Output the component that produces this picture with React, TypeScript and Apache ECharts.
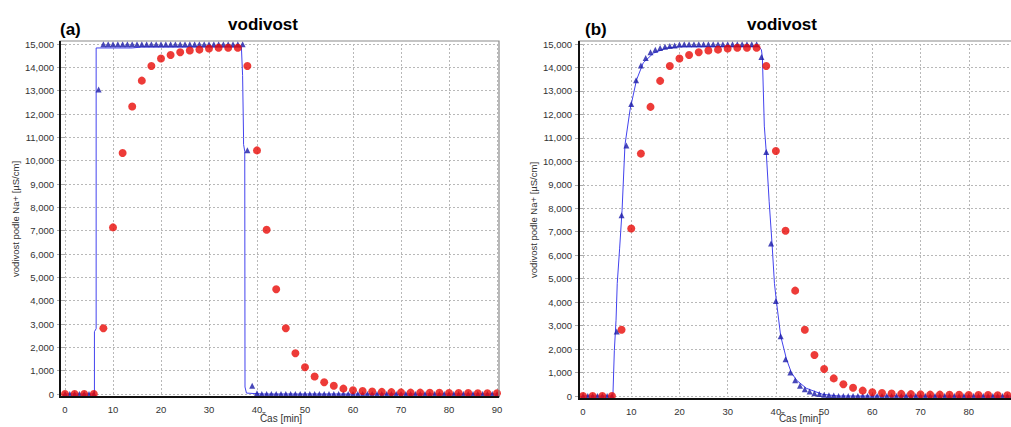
import React, { useEffect, useRef } from "react";
import * as echarts from "echarts";

// Measured conductivity (red circles), sampled every 2 min — same in (a) and (b)
const tMeasured = [0, 2, 4, 6, 8, 10, 12, 14, 16, 18, 20, 22, 24, 26, 28, 30, 32, 34, 36, 38, 40, 42, 44, 46, 48, 50, 52, 54, 56, 58, 60, 62, 64, 66, 68, 70, 72, 74, 76, 78, 80, 82, 84, 86, 88, 90];
const measured = [0, 0, 0, 0, 2820, 7140, 10330, 12320, 13430, 14060, 14380, 14530, 14650, 14720, 14760, 14810, 14840, 14840, 14840, 14060, 10440, 7040, 4490, 2820, 1750, 1150, 750, 500, 350, 230, 160, 130, 110, 90, 80, 70, 60, 60, 50, 50, 40, 40, 40, 30, 30, 30];

// Model outputs (blue triangles), every 1 min
const tModel = [0, 1, 2, 3, 4, 5, 6, 7, 8, 9, 10, 11, 12, 13, 14, 15, 16, 17, 18, 19, 20, 21, 22, 23, 24, 25, 26, 27, 28, 29, 30, 31, 32, 33, 34, 35, 36, 37, 38, 39, 40, 41, 42, 43, 44, 45, 46, 47, 48, 49, 50, 51, 52, 53, 54, 55, 56, 57, 58, 59, 60, 61, 62, 63, 64, 65, 66, 67, 68, 69, 70, 71, 72, 73, 74, 75, 76, 77, 78, 79, 80, 81, 82, 83, 84, 85, 86, 87, 88, 89, 90];
const modelA = [
  0, 0, 0, 0, 0, 0, 0, 13050, 14990, 14990,
  14990, 14990, 14990, 14990, 14990, 14990, 14990, 14990, 14990, 14990,
  14990, 14990, 14990, 14990, 14990, 14990, 14990, 14990, 14990, 14990,
  14990, 14990, 14990, 14990, 14990, 14990, 14990, 14990, 10450, 350,
  30, 0, 0, 0, 0, 0, 0, 0, 0, 0,
  0, 0, 0, 0, 0, 0, 0, 0, 0, 0,
  0, 0, 0, 0, 0, 0, 0, 0, 0, 0,
  0, 0, 0, 0, 0, 0, 0, 0, 0, 0,
  0, 0, 0, 0, 0, 0, 0, 0, 0, 0,
  0,
];
const modelB = [
  0, 0, 0, 0, 0, 0, 0, 2750, 7700, 10670,
  12440, 13460, 14080, 14400, 14650, 14760, 14830, 14880, 14910, 14940,
  14980, 14990, 14990, 14990, 14990, 14990, 14990, 14990, 14990, 14990,
  14990, 14990, 14990, 14990, 14990, 14990, 14990, 14450, 10400, 6500,
  4050, 2550, 1570, 1000, 670, 440, 290, 190, 120, 80,
  50, 30, 20, 0, 0, 0, 0, 0, 0, 0,
  0, 0, 0, 0, 0, 0, 0, 0, 0, 0,
  0, 0, 0, 0, 0, 0, 0, 0, 0, 0,
  0, 0, 0, 0, 0, 0, 0, 0, 0, 0,
  0,
];

// Continuous model curves (blue lines)
const lineAT = [0, 6.13, 6.13, 6.49, 6.49, 14, 16, 36.75, 37.0, 37.2, 37.2, 37.45, 37.5, 37.8, 41, 90];
const lineAV = [0, 0, 2670, 2800, 14830, 14830, 14870, 14870, 13650, 11000, 10700, 10400, 300, 40, 0, 0];
const lineBT = [0, 6.2, 6.5, 6.85, 7.1, 7.6, 8.1, 8.7, 9.75, 11.1, 12.5, 14.6, 17.3, 20, 36.5, 37.0, 37.2, 37.6, 38.0, 38.6, 39.2, 39.7, 40.1, 41.0, 42.2, 43.2, 44.3, 46.3, 49.7, 53, 90];
const lineBV = [0, 0, 1950, 3230, 4800, 6300, 7900, 10700, 12190, 13470, 14200, 14610, 14830, 14880, 14890, 14750, 14440, 11500, 10400, 8300, 6500, 4800, 4050, 2550, 1570, 1000, 670, 330, 70, 0, 0];

const xTicksMax = 90;
const yMax = 15000;
const chartTitle = "vodivost";
const panelLabels = ["(a)", "(b)"];
const xName = "Čas [min]";
const yName = "vodivost podle Na+ [µS/cm]";

const zip = (a: number[], b: number[]) => a.map((v, i) => [v, b[i]]);

const FONT = "'Liberation Sans', Arial, sans-serif";
const RED = "#e80a06";
const TRI = "#1a1aa8";
const LINE = "#4343ee";

export default function App() {
  const ref = useRef<HTMLDivElement>(null);
  useEffect(() => {
    if (!ref.current) return;
    const chart = echarts.init(ref.current, null, { renderer: "svg" });

    const grids = [
      { left: 65, top: 44, width: 432, height: 350, outerBoundsMode: "none", containLabel: false },
      { left: 583, top: 44, width: 434, height: 352, outerBoundsMode: "none", containLabel: false },
    ];
    const xAxis = grids.map((_, i) => ({
      type: "value",
      gridIndex: i,
      min: 0,
      max: xTicksMax,
      interval: 10,
      name: xName,
      nameLocation: "middle",
      nameGap: 19 - i * 2,
      nameMoveOverlap: false,
      nameTextStyle: { fontFamily: FONT, fontSize: 10, lineHeight: 11, color: "#333" },
      axisLine: { show: false },
      axisTick: { show: false },
      axisLabel: { fontFamily: FONT, fontSize: 9.5, color: "#333", margin: 10, showMaxLabel: i === 0 },
      splitLine: { show: true, lineStyle: { color: "#b8b8b8", type: [2, 2], width: 1 } },
    }));
    const yAxis = grids.map((_, i) => ({
      type: "value",
      gridIndex: i,
      min: 0,
      max: yMax,
      interval: 1000,
      name: yName,
      nameLocation: "middle",
      nameGap: 45,
      nameMoveOverlap: false,
      nameTextStyle: { fontFamily: FONT, fontSize: 9.5, color: "#333" },
      axisLine: { show: false },
      axisTick: { show: true, length: 8, lineStyle: { color: "#aaa" } },
      axisLabel: {
        fontFamily: FONT,
        fontSize: 9.5,
        color: "#333",
        margin: 11,
        formatter: (v: number) => v.toLocaleString("en-US"),
      },
      splitLine: { show: true, lineStyle: { color: "#b8b8b8", type: [2, 2], width: 1 } },
    }));

    const panelSeries = (i: number, lt: number[], lv: number[], mv: number[]) => [
      {
        type: "line",
        xAxisIndex: i,
        yAxisIndex: i,
        data: zip(lt, lv),
        symbol: "none",
        showSymbol: false,
        clip: false,
        lineStyle: { color: LINE, width: 1 },
        z: 2,
      },
      {
        type: "scatter",
        xAxisIndex: i,
        yAxisIndex: i,
        data: zip(tModel, mv),
        symbol: "triangle",
        symbolSize: 6,
        clip: false,
        itemStyle: { color: TRI },
        z: 3,
      },
      {
        type: "scatter",
        xAxisIndex: i,
        yAxisIndex: i,
        data: zip(tMeasured, measured),
        symbol: "circle",
        symbolSize: 8,
        clip: false,
        itemStyle: { color: RED },
        z: 4,
      },
    ];

    const frame = (x0: number, y0: number, x1: number, y1: number) => [
      {
        type: "rect",
        shape: { x: x0, y: y0, width: x1 - x0, height: y1 - y0 },
        style: { fill: "none", stroke: "#8a8a8a", lineWidth: 1.2 },
        z: 100,
        silent: true,
      },
      {
        type: "line",
        shape: { x1: x0, y1: y0, x2: x0, y2: y1 + 1 },
        style: { stroke: "#111", lineWidth: 2 },
        z: 101,
        silent: true,
      },
      {
        type: "line",
        shape: { x1: x0 - 1, y1: y1, x2: x1, y2: y1 },
        style: { stroke: "#111", lineWidth: 2 },
        z: 101,
        silent: true,
      },
    ];

    chart.setOption({
      animation: false,
      backgroundColor: "#fff",
      title: [
        { text: chartTitle, left: 258, top: 11, textAlign: "center", textStyle: { fontFamily: FONT, fontSize: 17, fontWeight: "bold", color: "#000" } },
        { text: panelLabels[0], left: 55, top: 16, textStyle: { fontFamily: FONT, fontSize: 17, fontWeight: "bold", color: "#000" } },
        { text: chartTitle, left: 777, top: 11, textAlign: "center", textStyle: { fontFamily: FONT, fontSize: 17, fontWeight: "bold", color: "#000" } },
        { text: panelLabels[1], left: 580, top: 16, textStyle: { fontFamily: FONT, fontSize: 17, fontWeight: "bold", color: "#000" } },
      ],
      grid: grids,
      xAxis,
      yAxis,
      series: [
        ...panelSeries(0, lineAT, lineAV, modelA),
        ...panelSeries(1, lineBT, lineBV, modelB),
      ],
      graphic: [...frame(60, 41, 499, 397), ...frame(579, 41, 1020, 399)],
    });
    return () => chart.dispose();
  }, []);
  return (
    <div
      ref={ref}
      style={{ position: "absolute", left: 0, top: 0, width: 1011, height: 427, background: "#fff" }}
    />
  );
}
